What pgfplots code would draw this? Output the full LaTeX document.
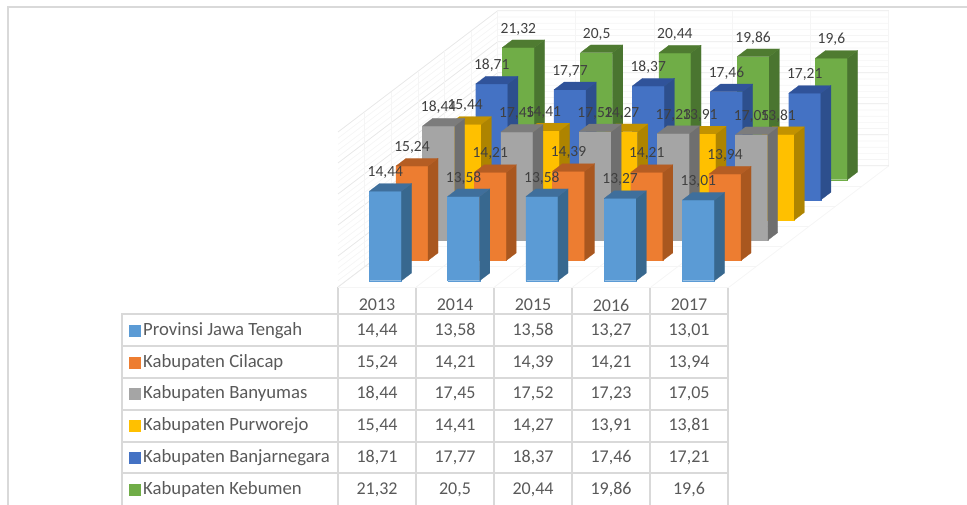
\documentclass[border=0pt]{standalone}
\usepackage{pgfplots}
\pgfplotsset{compat=1.18}
\usepackage{fontspec}
\setmainfont{Carlito}
\definecolor{fA}{HTML}{5B9BD5}\definecolor{sA}{HTML}{38688F}\definecolor{tA}{HTML}{3F6F9C}
\definecolor{fB}{HTML}{ED7D31}\definecolor{sB}{HTML}{A9571F}\definecolor{tB}{HTML}{B55D23}
\definecolor{fC}{HTML}{A5A5A5}\definecolor{sC}{HTML}{6F6F6F}\definecolor{tC}{HTML}{7C7C7C}
\definecolor{fD}{HTML}{FFC000}\definecolor{sD}{HTML}{AE8400}\definecolor{tD}{HTML}{C29200}
\definecolor{fE}{HTML}{4472C4}\definecolor{sE}{HTML}{2D4F8D}\definecolor{tE}{HTML}{30539A}
\definecolor{fF}{HTML}{70AD47}\definecolor{sF}{HTML}{4A7530}\definecolor{tF}{HTML}{4F7B31}
\definecolor{tbl}{HTML}{D9D9D9}
\definecolor{maj}{HTML}{E8E8E8}
\definecolor{mnr}{HTML}{F5F5F5}
\definecolor{txt}{HTML}{595959}
\definecolor{lab}{HTML}{404040}
% year index, series index, value, colour letter
\newcommand{\Bar}[4]{%
  \pgfmathsetmacro\xa{#1+0.295}\pgfmathsetmacro\xb{#1+0.705}%
  \pgfmathsetmacro\ya{#2+0.31}\pgfmathsetmacro\yb{#2+0.69}%
  \edef\temp{%
  \noexpand\addplot3[fill=f#4,draw=f#4,line width=0.2pt] coordinates {(\xa,\ya,0) (\xb,\ya,0) (\xb,\ya,#3) (\xa,\ya,#3) (\xa,\ya,0)};
  \noexpand\addplot3[fill=s#4,draw=s#4,line width=0.2pt] coordinates {(\xb,\ya,0) (\xb,\yb,0) (\xb,\yb,#3) (\xb,\ya,#3) (\xb,\ya,0)};
  \noexpand\addplot3[fill=t#4,draw=t#4,line width=0.2pt] coordinates {(\xa,\ya,#3) (\xb,\ya,#3) (\xb,\yb,#3) (\xa,\yb,#3) (\xa,\ya,#3)};
  }\temp}
\newcommand{\tfont}{\fontsize{18}{18}\selectfont}
\newcommand{\nfont}{\fontsize{18.7}{18.7}\selectfont}
% row: y centre, swatch colour, name, five values
\newcommand{\Row}[8]{%
  \addplot[only marks,mark=square*,mark size=5.5pt,mark options={fill=#2,draw=#2}] coordinates {(134.5,#1)};
  \node[anchor=west,text=txt,font=\nfont] at (axis cs:139.7,#1) {#3};
  \node[text=txt,font=\tfont] at (axis cs:377,#1) {#4};
  \node[text=txt,font=\tfont] at (axis cs:455,#1) {#5};
  \node[text=txt,font=\tfont] at (axis cs:533,#1) {#6};
  \node[text=txt,font=\tfont] at (axis cs:611,#1) {#7};
  \node[text=txt,font=\tfont] at (axis cs:689,#1) {#8};
}
\pgfplotsset{lbl/.style={draw=none,mark=none,point meta=z,nodes near coords,
  every node near coord/.style={anchor=center,yshift=18.5pt,text=lab,inner sep=0pt,font=\fontsize{15.5}{15.5}\selectfont},
  /pgf/number format/.cd,use comma,fixed,precision=2,assume math mode=true}}
\begin{document}
\begin{tikzpicture}[x=1pt,y=1pt]
\path[use as bounding box] (0,0) rectangle (967pt,505pt);
% frame and data table
\begin{axis}[at={(0pt,0pt)},anchor=south west,width=967pt,height=505pt,scale only axis,
  xmin=0,xmax=967,ymin=0,ymax=505,y dir=reverse,hide axis,clip=false]
\addplot[color=tbl,line width=1.5pt] coordinates {(8,505) (8,7) (967,7)};
\addplot[color=tbl,line width=1.5pt] coordinates {(122,505) (122,314) (728,314)};
\addplot[color=tbl,line width=1.5pt] coordinates {(122,346) (728,346)};
\addplot[color=tbl,line width=1.5pt] coordinates {(122,378) (728,378)};
\addplot[color=tbl,line width=1.5pt] coordinates {(122,410) (728,410)};
\addplot[color=tbl,line width=1.5pt] coordinates {(122,442) (728,442)};
\addplot[color=tbl,line width=1.5pt] coordinates {(122,473) (728,473)};
\addplot[color=tbl,line width=1.5pt] coordinates {(338,287) (338,505)};
\addplot[color=tbl,line width=1.5pt] coordinates {(416,287) (416,505)};
\addplot[color=tbl,line width=1.5pt] coordinates {(494,287) (494,505)};
\addplot[color=tbl,line width=1.5pt] coordinates {(572,287) (572,505)};
\addplot[color=tbl,line width=1.5pt] coordinates {(650,287) (650,505)};
\addplot[color=tbl,line width=1.5pt] coordinates {(728,287) (728,505)};
\node[text=txt,font=\tfont] at (axis cs:377,305) {2013};
\node[text=txt,font=\tfont] at (axis cs:455,305) {2014};
\node[text=txt,font=\tfont] at (axis cs:533,305) {2015};
\node[text=txt,font=\tfont] at (axis cs:611,305) {2016};
\node[text=txt,font=\tfont] at (axis cs:689,305) {2017};
\Row{330.5}{fA}{Provinsi Jawa Tengah}{14,44}{13,58}{13,58}{13,27}{13,01}
\Row{362.5}{fB}{Kabupaten Cilacap}{15,24}{14,21}{14,39}{14,21}{13,94}
\Row{394}{fC}{Kabupaten Banyumas}{18,44}{17,45}{17,52}{17,23}{17,05}
\Row{426}{fD}{Kabupaten Purworejo}{15,44}{14,41}{14,27}{13,91}{13,81}
\Row{458}{fE}{Kabupaten Banjarnegara}{18,71}{17,77}{18,37}{17,46}{17,21}
\Row{489.5}{fF}{Kabupaten Kebumen}{21,32}{20,5}{20,44}{19,86}{19,6}
\end{axis}
% 3D bars: origin = front-left floor corner
\begin{axis}[at={(338pt,218pt)},anchor=origin,
  x={(78.25pt,0pt)},y={(26.6pt,20.2pt)},z={(0pt,6.2pt)},
  xmin=0,xmax=5,ymin=0,ymax=6,zmin=0,zmax=25,hide axis,clip=false]
% walls: minor lines
\pgfplotsinvokeforeach{1,2,3,4,6,7,8,9,11,12,13,14,16,17,18,19,21,22,23,24}{
  \addplot3[color=mnr,line width=0.7pt] coordinates {(0,0,#1) (0,6,#1) (5,6,#1)};
}
% walls: major lines
\pgfplotsinvokeforeach{5,10,15,20,25}{
  \addplot3[color=maj,line width=0.8pt] coordinates {(0,0,#1) (0,6,#1) (5,6,#1)};
}
\pgfplotsinvokeforeach{0,1,2,3,4,5}{
  \addplot3[color=mnr,line width=0.8pt] coordinates {(#1,6,0) (#1,6,25)};
  \addplot3[color=mnr,line width=0.8pt] coordinates {(#1,0,0) (#1,6,0)};
}
\pgfplotsinvokeforeach{1,2,3,4,5}{
  \addplot3[color=mnr,line width=0.6pt] coordinates {(5,#1,0) (0,#1,0) (0,#1,25)};
}
\addplot3[color=maj,line width=0.8pt] coordinates {(0,0,0) (0,6,0) (5,6,0)};
\addplot3[color=mnr,line width=0.8pt] coordinates {(0,0,0) (5,0,0)};
% Kabupaten Kebumen
\Bar{0}{5}{21.32}{F}\Bar{1}{5}{20.5}{F}\Bar{2}{5}{20.44}{F}\Bar{3}{5}{19.86}{F}\Bar{4}{5}{19.6}{F}
% Kabupaten Banjarnegara
\Bar{0}{4}{18.71}{E}\Bar{1}{4}{17.77}{E}\Bar{2}{4}{18.37}{E}\Bar{3}{4}{17.46}{E}\Bar{4}{4}{17.21}{E}
% Kabupaten Purworejo
\Bar{0}{3}{15.44}{D}\Bar{1}{3}{14.41}{D}\Bar{2}{3}{14.27}{D}\Bar{3}{3}{13.91}{D}\Bar{4}{3}{13.81}{D}
% Kabupaten Banyumas
\Bar{0}{2}{18.44}{C}\Bar{1}{2}{17.45}{C}\Bar{2}{2}{17.52}{C}\Bar{3}{2}{17.23}{C}\Bar{4}{2}{17.05}{C}
% Kabupaten Cilacap
\Bar{0}{1}{15.24}{B}\Bar{1}{1}{14.21}{B}\Bar{2}{1}{14.39}{B}\Bar{3}{1}{14.21}{B}\Bar{4}{1}{13.94}{B}
% Provinsi Jawa Tengah
\Bar{0}{0}{14.44}{A}\Bar{1}{0}{13.58}{A}\Bar{2}{0}{13.58}{A}\Bar{3}{0}{13.27}{A}\Bar{4}{0}{13.01}{A}
% data labels
\addplot3[lbl] coordinates {(0.5,5.31,21.32) (1.5,5.31,20.5) (2.5,5.31,20.44) (3.5,5.31,19.86) (4.5,5.31,19.6)};
\addplot3[lbl] coordinates {(0.5,4.31,18.71) (1.5,4.31,17.77) (2.5,4.31,18.37) (3.5,4.31,17.46) (4.5,4.31,17.21)};
\addplot3[lbl] coordinates {(0.5,3.31,15.44) (1.5,3.31,14.41) (2.5,3.31,14.27) (3.5,3.31,13.91) (4.5,3.31,13.81)};
\addplot3[lbl] coordinates {(0.5,2.31,18.44) (1.5,2.31,17.45) (2.5,2.31,17.52) (3.5,2.31,17.23) (4.5,2.31,17.05)};
\addplot3[lbl] coordinates {(0.5,1.31,15.24) (1.5,1.31,14.21) (2.5,1.31,14.39) (3.5,1.31,14.21) (4.5,1.31,13.94)};
\addplot3[lbl] coordinates {(0.5,0.31,14.44) (1.5,0.31,13.58) (2.5,0.31,13.58) (3.5,0.31,13.27) (4.5,0.31,13.01)};
\end{axis}
\end{tikzpicture}
\end{document}
